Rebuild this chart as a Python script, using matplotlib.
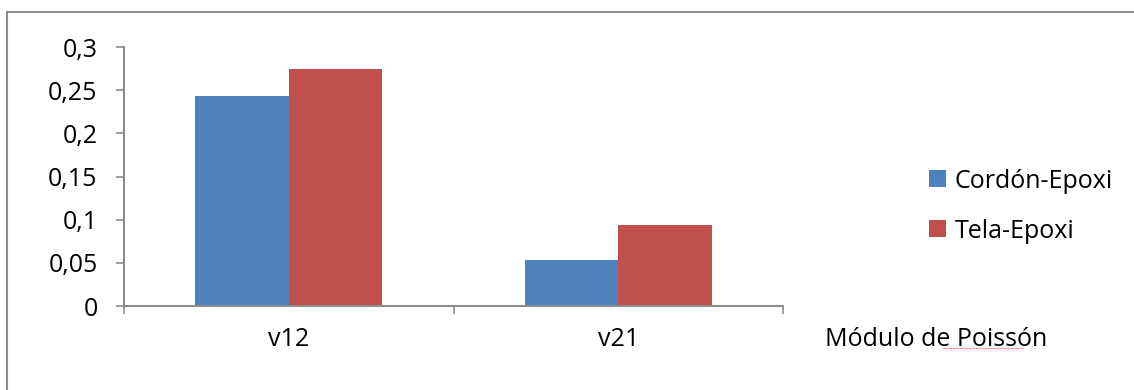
import numpy as np
import matplotlib.pyplot as plt
from matplotlib.patches import Rectangle, Patch
from matplotlib.ticker import FuncFormatter

# Poisson ratios for each composite
categorias = ['v12', 'v21']
cordon_epoxi = [0.243, 0.053]
tela_epoxi = [0.275, 0.094]
series = ['Cordón-Epoxi', 'Tela-Epoxi']
colores = ['#4F81BD', '#C0504D']

plt.rcParams['font.family'] = ['Open Sans', 'DejaVu Sans']
GRIS = '#8C8C8C'
FS = 18

fig = plt.figure(figsize=(11.34, 3.9), dpi=100)
W, H = 1134, 390

# outer chart frame (only top/left visible)
fig.patches.append(Rectangle((7 / W, -0.1), 1.2, 1 - 12 / H + 0.1,
                             transform=fig.transFigure, fill=False,
                             edgecolor=GRIS, linewidth=1.5))

ax = fig.add_axes([124 / W, 84 / H, (783 - 124) / W, 259 / H])
x = np.arange(len(categorias))
ancho = 0.284
ax.bar(x - ancho / 2, cordon_epoxi, ancho, color=colores[0], label=series[0])
ax.bar(x + ancho / 2, tela_epoxi, ancho, color=colores[1], label=series[1])

ax.set_xlim(-0.5, len(categorias) - 0.5)
ax.set_ylim(0, 0.3)
ax.set_yticks(np.arange(0, 0.31, 0.05))
ax.yaxis.set_major_formatter(FuncFormatter(
    lambda v, p: ('%g' % round(v, 2)).replace('.', ',')))
ax.set_xticks(x)
ax.set_xticklabels(categorias)
ax.set_xticks(np.arange(-0.5, len(categorias), 1), minor=True)

for s in ['top', 'right']:
    ax.spines[s].set_visible(False)
for s in ['left', 'bottom']:
    ax.spines[s].set_color(GRIS)
    ax.spines[s].set_linewidth(1.5)

ax.tick_params(axis='y', direction='out', length=6, width=1.2, color=GRIS,
               labelsize=FS, pad=13)
ax.tick_params(axis='x', which='major', length=0, labelsize=FS, pad=15)
ax.tick_params(axis='x', which='minor', direction='out', length=6,
               width=1.2, color=GRIS)

fig.text(825 / W, 1 - 339 / H, 'Módulo de Poissón', fontsize=FS,
         ha='left', va='center')
# spell-check underline under "Poissón"
fig.lines.append(plt.Line2D([943 / W, 1022 / W], [1 - 348 / H, 1 - 348 / H],
                            transform=fig.transFigure, color='#F4A0A0',
                            linewidth=0.8))

handles = [Patch(facecolor=c, label=l) for c, l in zip(colores, series)]
fig.legend(handles=handles, loc='center left',
           bbox_to_anchor=(906 / W, 1 - 206 / H), frameon=False,
           fontsize=FS, handlelength=0.68, handleheight=0.68,
           handletextpad=0.36, labelspacing=1.0)

fig.savefig('out.png', dpi=100)
